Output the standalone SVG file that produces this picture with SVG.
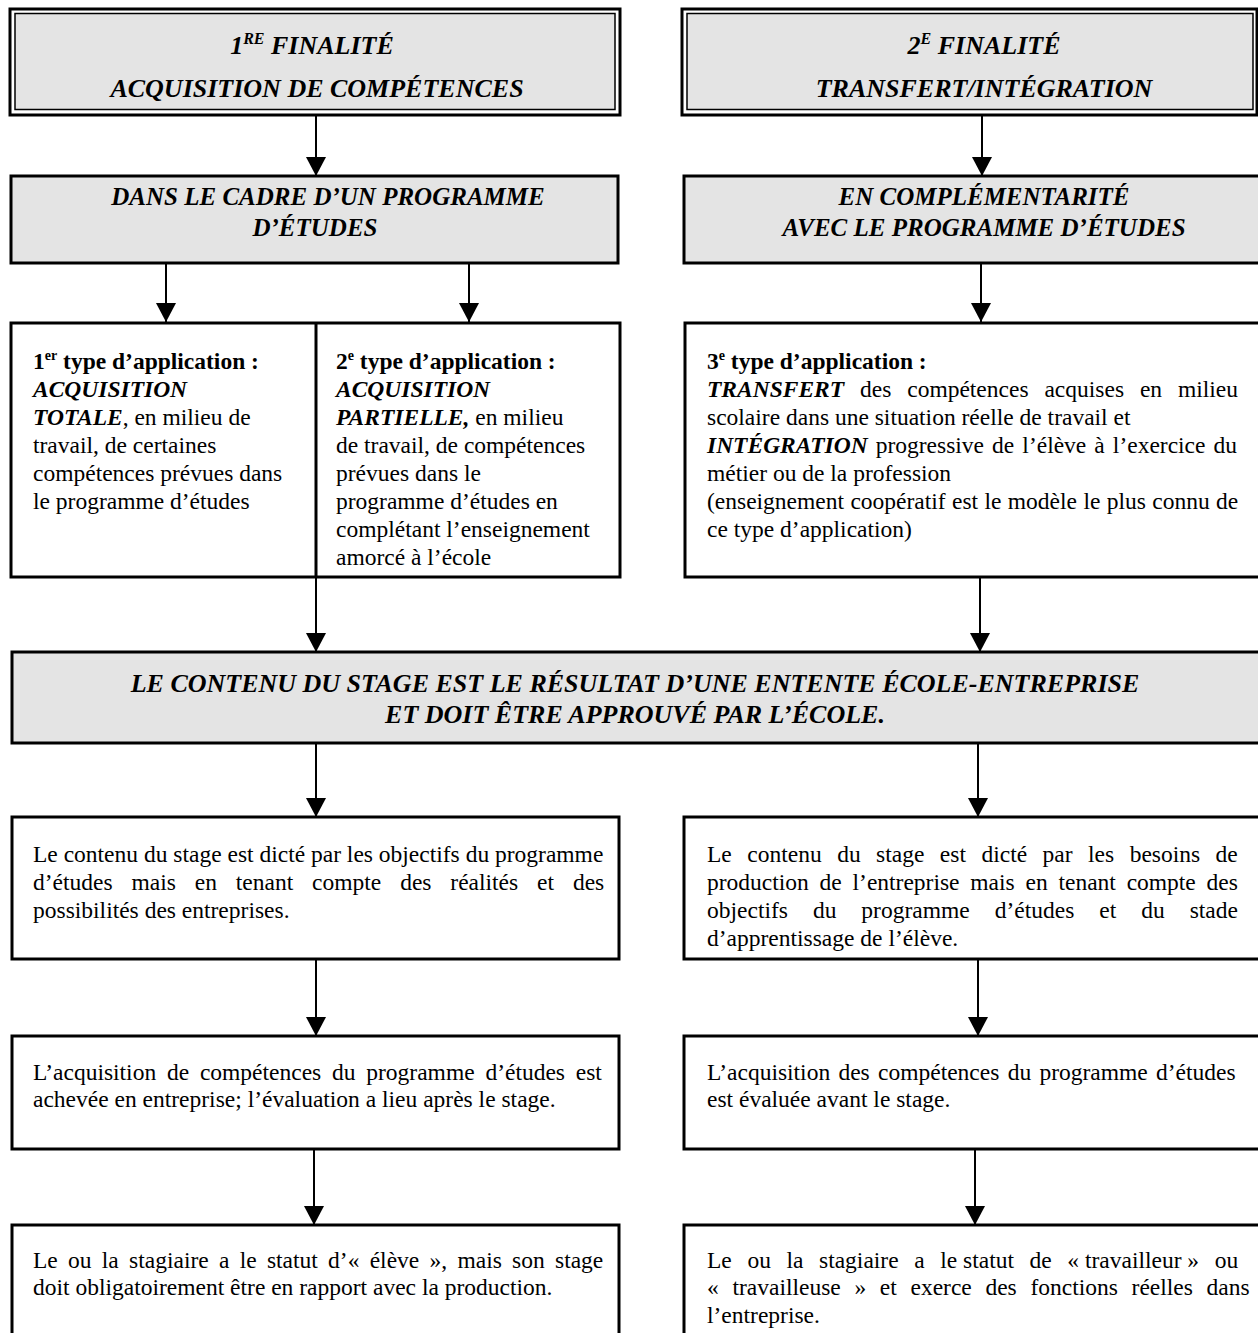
<svg xmlns="http://www.w3.org/2000/svg" width="1258" height="1333" viewBox="0 0 1258 1333">
<defs>
<style>
.box{fill:#ffffff;stroke:#000;stroke-width:3}
.gbox{fill:#e4e4e4;stroke:#000;stroke-width:3}
.inner{fill:#e4e4e4;stroke:#000;stroke-width:1.5}
.outer{fill:none;stroke:#000;stroke-width:3}
.conn{fill:none;stroke:#000;stroke-width:2;marker-end:url(#arr)}
.hdr{font-family:"Liberation Serif","Times New Roman",serif;font-weight:bold;font-style:italic;font-size:26px;text-anchor:middle;fill:#000}
.hdr2{font-family:"Liberation Serif","Times New Roman",serif;font-weight:bold;font-style:italic;font-size:25px;text-anchor:middle;fill:#000}
.t{font-family:"Liberation Serif","Times New Roman",serif;font-size:23.5px;fill:#000}
.b{font-weight:bold}
.bi{font-weight:bold;font-style:italic}
</style>
<marker id="arr" markerUnits="userSpaceOnUse" markerWidth="20" markerHeight="20" refX="19" refY="10" orient="auto" viewBox="0 0 20 20">
<path d="M0,0 L19,10 L0,20 z" fill="#000"/>
</marker>
</defs>

<rect width="1258" height="1333" fill="#ffffff"/>

<g id="connectors">
<path class="conn" d="M316,116 V176"/>
<path class="conn" d="M982,116 V176"/>
<path class="conn" d="M166,264 V322"/>
<path class="conn" d="M469,264 V322"/>
<path class="conn" d="M981,264 V322"/>
<path class="conn" d="M316,578 V652"/>
<path class="conn" d="M980,578 V652"/>
<path class="conn" d="M316,744 V817"/>
<path class="conn" d="M978,744 V817"/>
<path class="conn" d="M316,960 V1036"/>
<path class="conn" d="M978,960 V1036"/>
<path class="conn" d="M314,1150 V1225"/>
<path class="conn" d="M975,1150 V1225"/>
</g>

<g id="finalite1">
<rect class="outer" x="10" y="9" width="610" height="106"/>
<rect class="inner" x="15" y="13.5" width="600" height="96"/>
<text class="hdr" x="312" y="54">1<tspan font-size="16" dy="-10">RE</tspan><tspan dy="10"> FINALITÉ</tspan></text>
<text class="hdr" x="317" y="97">ACQUISITION DE COMPÉTENCES</text>
</g>

<g id="finalite2">
<rect class="outer" x="682" y="9" width="575" height="106"/>
<rect class="inner" x="687" y="13.5" width="566" height="96"/>
<text class="hdr" x="984" y="54">2<tspan font-size="16" dy="-10">E</tspan><tspan dy="10"> FINALITÉ</tspan></text>
<text class="hdr" x="984" y="97">TRANSFERT/INTÉGRATION</text>
</g>

<g id="cadre">
<rect class="gbox" x="11" y="176" width="607" height="87"/>
<text class="hdr2" x="328" y="205">DANS LE CADRE D’UN PROGRAMME</text>
<text class="hdr2" x="315" y="236">D’ÉTUDES</text>
</g>

<g id="complementarite">
<rect class="gbox" x="684" y="176" width="600" height="87"/>
<text class="hdr2" x="984" y="205">EN COMPLÉMENTARITÉ</text>
<text class="hdr2" x="984" y="236">AVEC LE PROGRAMME D’ÉTUDES</text>
</g>

<g id="types12">
<rect class="box" x="11" y="323" width="609" height="254"/>
<line x1="316" y1="323" x2="316" y2="577" stroke="#000" stroke-width="3"/>
<text class="t b" x="33" y="369">1<tspan font-size="14" dy="-9">er</tspan><tspan dy="9"> type d’application :</tspan></text>
<text class="t bi" x="33" y="397">ACQUISITION</text>
<text class="t" x="33" y="425"><tspan class="bi">TOTALE</tspan>, en milieu de</text>
<text class="t" x="33" y="453">travail, de certaines</text>
<text class="t" x="33" y="481">compétences prévues dans</text>
<text class="t" x="33" y="509">le programme d’études</text>
<text class="t b" x="336" y="369">2<tspan font-size="14" dy="-9">e</tspan><tspan dy="9"> type d’application :</tspan></text>
<text class="t bi" x="336" y="397">ACQUISITION</text>
<text class="t" x="336" y="425"><tspan class="bi">PARTIELLE,</tspan> en milieu</text>
<text class="t" x="336" y="453">de travail, de compétences</text>
<text class="t" x="336" y="481">prévues dans le</text>
<text class="t" x="336" y="509">programme d’études en</text>
<text class="t" x="336" y="537">complétant l’enseignement</text>
<text class="t" x="336" y="565">amorcé à l’école</text>
</g>

<g id="type3">
<rect class="box" x="685" y="323" width="600" height="254"/>
<text class="t b" x="707" y="369">3<tspan font-size="14" dy="-9">e</tspan><tspan dy="9"> type d’application :</tspan></text>
<text class="t" x="707" y="397" style="word-spacing:10px"><tspan class="bi">TRANSFERT</tspan> des compétences acquises en milieu</text>
<text class="t" x="707" y="425">scolaire dans une situation réelle de travail et</text>
<text class="t" x="707" y="453" style="word-spacing:2.2px"><tspan class="bi">INTÉGRATION</tspan> progressive de l’élève à l’exercice du</text>
<text class="t" x="707" y="481">métier ou de la profession</text>
<text class="t" x="707" y="509" style="word-spacing:0.5px">(enseignement coopératif est le modèle le plus connu de</text>
<text class="t" x="707" y="537">ce type d’application)</text>
</g>

<g id="entente">
<rect class="gbox" x="12" y="652" width="1250" height="91"/>
<text class="hdr" x="635" y="692">LE CONTENU DU STAGE EST LE RÉSULTAT D’UNE ENTENTE ÉCOLE-ENTREPRISE</text>
<text class="hdr" x="635" y="723">ET DOIT ÊTRE APPROUVÉ PAR L’ÉCOLE.</text>
</g>

<g id="contenu1">
<rect class="box" x="12" y="817" width="607" height="142"/>
<text class="t" x="33" y="862">Le contenu du stage est dicté par les objectifs du programme</text>
<text class="t" x="33" y="890" style="word-spacing:13px">d’études mais en tenant compte des réalités et des</text>
<text class="t" x="33" y="918">possibilités des entreprises.</text>
</g>

<g id="contenu2">
<rect class="box" x="684" y="817" width="600" height="142"/>
<text class="t" x="707" y="862" style="word-spacing:9.6px">Le contenu du stage est dicté par les besoins de</text>
<text class="t" x="707" y="890" style="word-spacing:4.9px">production de l’entreprise mais en tenant compte des</text>
<text class="t" x="707" y="918" style="word-spacing:19.1px">objectifs du programme d’études et du stade</text>
<text class="t" x="707" y="946">d’apprentissage de l’élève.</text>
</g>

<g id="acquisition1">
<rect class="box" x="12" y="1036" width="607" height="113"/>
<text class="t" x="33" y="1080" style="word-spacing:4.9px">L’acquisition de compétences du programme d’études est</text>
<text class="t" x="33" y="1107">achevée en entreprise; l’évaluation a lieu après le stage.</text>
</g>

<g id="acquisition2">
<rect class="box" x="684" y="1036" width="600" height="113"/>
<text class="t" x="707" y="1080" style="word-spacing:2.4px">L’acquisition des compétences du programme d’études</text>
<text class="t" x="707" y="1107">est évaluée avant le stage.</text>
</g>

<g id="statut1">
<rect class="box" x="12" y="1225" width="607" height="130"/>
<text class="t" x="33" y="1268" style="word-spacing:4.4px">Le ou la stagiaire a le statut d’« élève », mais son stage</text>
<text class="t" x="33" y="1295">doit obligatoirement être en rapport avec la production.</text>
</g>

<g id="statut2">
<rect class="box" x="684" y="1225" width="600" height="130"/>
<text class="t" y="1268"><tspan x="707">Le</tspan><tspan x="747.4">ou</tspan><tspan x="786.5">la</tspan><tspan x="819">stagiaire</tspan><tspan x="914.2">a</tspan><tspan x="940.2">le statut</tspan><tspan x="1029.6">de</tspan><tspan x="1067.3">« travailleur »</tspan><tspan x="1214.8">ou</tspan></text>
<text class="t" x="707" y="1295" style="word-spacing:7.8px">« travailleuse » et exerce des fonctions réelles dans</text>
<text class="t" x="707" y="1323">l’entreprise.</text>
</g>
</svg>
